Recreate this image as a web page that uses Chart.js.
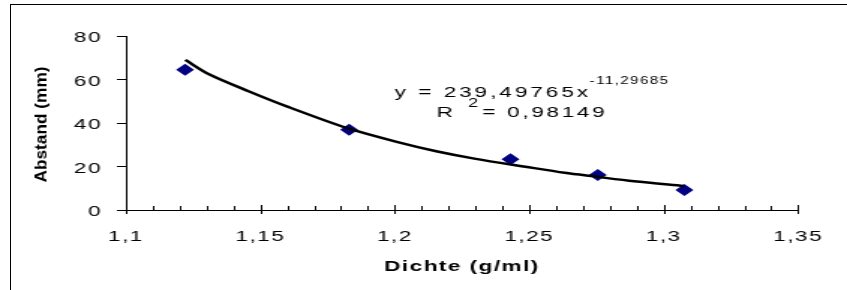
<!DOCTYPE html>
<html>
<head>
<meta charset="utf-8">
<script src="https://cdn.jsdelivr.net/npm/chart.js@4"></script>
<style>
  html, body { margin: 0; padding: 0; background: #fff; }
  .wrap { position: relative; width: 847px; height: 290px; overflow: hidden; }
  /* the source picture is an Excel chart stretched 1.5x sideways, so the canvas is too */
  .stretch { position: absolute; left: 0; top: 0; width: 565px; height: 290px;
             transform: scaleX(1.4991); transform-origin: 0 0; }
  .frame { position: absolute; left: 10px; top: 4px; width: 840px; height: 290px;
           border-top: 1px solid #000; border-left: 1px solid #000; }
</style>
</head>
<body>
<div class="wrap">
  <div class="stretch"><canvas id="chart" width="565" height="290"></canvas></div>
  <div class="frame"></div>
</div>
<script>
// measured points
const dichte = [1.122, 1.183, 1.243, 1.2755, 1.3077];
const abstand = [64.5, 36.9, 23.3, 16.1, 9.2];

// power trendline
const trendX = [1.1221, 1.1309, 1.1456, 1.1603, 1.1824, 1.2007, 1.2154, 1.2301, 1.2485, 1.2632, 1.2743, 1.289, 1.3074];
const trendY = [69.0, 62.4, 54.6, 47.4, 37.6, 31.3, 27.0, 23.5, 19.9, 17.1, 15.4, 13.2, 11.0];

const xTitle = 'Dichte (g/ml)';
const yTitle = 'Abstand (mm)';
const eqMain = 'y = 239,49765x';
const eqExp = '-11,29685';
const r2Label = 'R';
const r2Exp = '2';
const r2Value = '= 0,98149';

const FONT = '"Liberation Sans", Arial, sans-serif';
Chart.defaults.font.family = FONT;
Chart.defaults.color = '#000';

const toPoints = (xs, ys) => xs.map((x, i) => ({ x: x, y: ys[i] }));
const isMajor = v => Math.round(v * 100) % 5 === 0;

const decor = {
    id: 'decor',
    beforeDraw(chart) { chart.ctx.letterSpacing = '1px'; },
    afterDraw(chart) {
        const ctx = chart.ctx;
        const x = chart.scales.x;
        const bottom = chart.chartArea.bottom;
        ctx.save();
        // x tick marks: minor ones inside, major ones crossing the axis
        ctx.strokeStyle = '#000';
        ctx.lineWidth = 1;
        x.ticks.forEach(t => {
            const px = Math.round(x.getPixelForValue(t.value)) + 0.5;
            const major = isMajor(t.value);
            ctx.beginPath();
            ctx.moveTo(px, bottom - (major ? 5 : 4));
            ctx.lineTo(px, bottom + (major ? 4 : 0));
            ctx.stroke();
        });
        ctx.fillStyle = '#000';
        ctx.textBaseline = 'alphabetic';
        ctx.textAlign = 'left';

        // equation + R²
        ctx.letterSpacing = '2px';
        ctx.font = '15px ' + FONT;
        let cx = 263.3;
        ctx.fillText(eqMain, cx, 96.7);
        cx += ctx.measureText(eqMain).width - 1;
        ctx.font = '10px ' + FONT;
        ctx.letterSpacing = '1px';
        ctx.fillText(eqExp, cx, 84);

        ctx.letterSpacing = '2px';
        ctx.font = '15px ' + FONT;
        cx = 291.3;
        ctx.fillText(r2Label, cx, 116.7);
        cx += ctx.measureText(r2Label).width + 8;
        ctx.font = '12px ' + FONT;
        ctx.fillText(r2Exp, cx, 107.3);
        cx += ctx.measureText(r2Exp).width + 1;
        ctx.font = '15px ' + FONT;
        ctx.letterSpacing = '1.8px';
        ctx.fillText(r2Value, cx, 116.7);

        // y title, long and narrow like the source
        ctx.letterSpacing = '0px';
        ctx.translate(28, 124.5);
        ctx.rotate(-Math.PI / 2);
        ctx.scale(1.5, 1);
        ctx.font = 'bold 11.5px ' + FONT;
        ctx.textAlign = 'center';
        ctx.textBaseline = 'middle';
        ctx.fillText(yTitle, 0, 0);
        ctx.restore();
    }
};

new Chart(document.getElementById('chart'), {
    type: 'scatter',
    data: {
        datasets: [
            { label: 'Trend', data: toPoints(trendX, trendY), showLine: true, pointRadius: 0,
              borderColor: '#000', borderWidth: 2.5, tension: 0.3, order: 0 },
            { label: 'Abstand', data: toPoints(dichte, abstand), pointStyle: 'rectRot', pointRadius: 6,
              backgroundColor: '#000080', borderColor: '#000080', borderWidth: 0, order: 1 },
        ],
    },
    options: {
        responsive: false, devicePixelRatio: 1, animation: false,
        layout: { autoPadding: false, padding: { left: 0, right: 27.7, top: 36, bottom: 0 } },
        plugins: { legend: { display: false }, tooltip: { enabled: false } },
        scales: {
            x: {
                type: 'linear', min: 1.1, max: 1.35,
                afterFit: s => { s.height = 80; },
                grid: { display: false, drawTicks: false },
                border: { display: true, color: '#000', width: 1 },
                ticks: {
                    stepSize: 0.01, autoSkip: false, maxRotation: 0, padding: 18,
                    font: { size: 15 }, color: '#000',
                    callback: v => isMajor(v) ? String(Math.round(v * 100) / 100).replace('.', ',') : '',
                },
                title: { display: true, text: xTitle, font: { size: 15, weight: 'bold' }, color: '#000',
                         padding: { top: 0, bottom: 14 } },
            },
            y: {
                min: 0, max: 80,
                afterFit: s => { s.width = 84; },
                grid: { drawOnChartArea: false, drawTicks: true, tickLength: 6, color: '#000' },
                border: { display: true, color: '#000', width: 1 },
                ticks: { stepSize: 20, padding: 10, labelOffset: 2, font: { size: 15 }, color: '#000' },
            },
        },
    },
    plugins: [decor],
});
</script>
</body>
</html>
